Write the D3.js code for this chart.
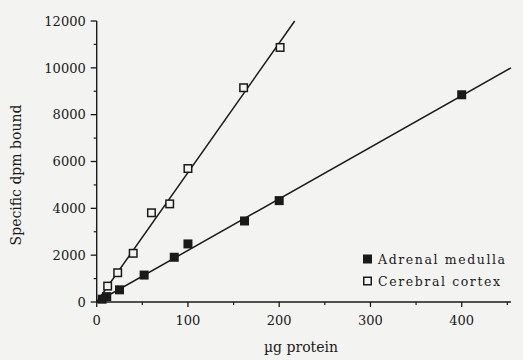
<!DOCTYPE html>
<html>
<head>
<meta charset="utf-8">
<script src="https://cdn.jsdelivr.net/npm/d3@7"></script>
<style>
  html, body { margin: 0; padding: 0; background: #f3f3f1; }
  svg { display: block; }
  text { font-family: "DejaVu Serif", "Liberation Serif", serif; fill: #1a1a1a; }
</style>
</head>
<body>
<svg id="chart" width="523" height="360"></svg>
<script>
// ---- Data (µg protein vs specific dpm bound) ----
const adrenalX = [6, 11, 25, 52, 85, 100, 162, 200, 400];
const adrenalY = [120, 230, 520, 1150, 1910, 2480, 3460, 4330, 8850];
const cortexX = [12, 23, 40, 60, 80, 100, 161, 201];
const cortexY = [680, 1250, 2080, 3810, 4190, 5700, 9150, 10870];
// fitted regression lines (data units: [x, y])
const adrenalFit = [[0, 0], [454, 10000]];
const cortexFit = [[0, 0], [217, 12000]];
const xMajorTicks = [0, 100, 200, 300, 400];
const xMinorTicks = [50, 150, 250, 350, 450];
const yMajorTicks = [0, 2000, 4000, 6000, 8000, 10000, 12000];
const yMinorTicks = [1000, 3000, 5000, 7000, 9000, 11000];
const legendLabels = ["Adrenal medulla", "Cerebral cortex"];
const xTitle = "µg protein";
const yTitle = "Specific dpm bound";

const svg = d3.select("#chart");
const ink = "#1a1a1a";

const x = d3.scaleLinear().domain([0, 400]).range([96.7, 461.7]);
const y = d3.scaleLinear().domain([0, 12000]).range([302, 21]);
const xEnd = 454;

// X axis
const gx = svg.append("g").attr("transform", `translate(0,${y(0)})`);
gx.append("line").attr("x1", x(0)).attr("x2", x(xEnd)).attr("stroke", ink).attr("stroke-width", 1.4);
gx.selectAll("line.maj").data(xMajorTicks).join("line").attr("class", "maj")
  .attr("x1", d => x(d)).attr("x2", d => x(d)).attr("y1", 0).attr("y2", 5)
  .attr("stroke", ink).attr("stroke-width", 1.3);
gx.selectAll("line.min").data(xMinorTicks).join("line").attr("class", "min")
  .attr("x1", d => x(d)).attr("x2", d => x(d)).attr("y1", 0).attr("y2", 3)
  .attr("stroke", ink).attr("stroke-width", 1.2);
gx.selectAll("text").data(xMajorTicks).join("text")
  .attr("x", d => x(d)).attr("y", 23).attr("text-anchor", "middle")
  .attr("font-size", 13).text(d => d);

// Y axis
const gy = svg.append("g").attr("transform", `translate(${x(0)},0)`);
gy.append("line").attr("y1", y(0)).attr("y2", y(12000)).attr("stroke", ink).attr("stroke-width", 1.4);
gy.selectAll("line.maj").data(yMajorTicks).join("line").attr("class", "maj")
  .attr("y1", d => y(d)).attr("y2", d => y(d)).attr("x1", 0).attr("x2", -6)
  .attr("stroke", ink).attr("stroke-width", 1.3);
gy.selectAll("line.min").data(yMinorTicks).join("line").attr("class", "min")
  .attr("y1", d => y(d)).attr("y2", d => y(d)).attr("x1", 0).attr("x2", -3)
  .attr("stroke", ink).attr("stroke-width", 1.2);
gy.selectAll("text").data(yMajorTicks).join("text")
  .attr("x", -11).attr("y", d => y(d)).attr("dy", "0.36em").attr("text-anchor", "end")
  .attr("font-size", 13).text(d => d);

// Titles
svg.append("text").attr("x", 301).attr("y", 352).attr("text-anchor", "middle")
  .attr("font-size", 14).text(xTitle);
svg.append("text").attr("transform", "translate(21,175) rotate(-90)").attr("text-anchor", "middle")
  .attr("font-size", 14).text(yTitle);

// Fit lines
const line = d3.line().x(d => x(d[0])).y(d => y(d[1]));
svg.append("path").datum(adrenalFit).attr("d", line).attr("fill", "none").attr("stroke", ink).attr("stroke-width", 1.5);
svg.append("path").datum(cortexFit).attr("d", line).attr("fill", "none").attr("stroke", ink).attr("stroke-width", 1.5);

const s = 9;
// Adrenal medulla (filled squares)
svg.append("g").selectAll("rect").data(adrenalX.map((d, i) => [d, adrenalY[i]])).join("rect")
  .attr("x", d => x(d[0]) - s / 2).attr("y", d => y(d[1]) - s / 2)
  .attr("width", s).attr("height", s).attr("fill", ink);
// Cerebral cortex (open squares)
svg.append("g").selectAll("rect").data(cortexX.map((d, i) => [d, cortexY[i]])).join("rect")
  .attr("x", d => x(d[0]) - (s - 1.5) / 2).attr("y", d => y(d[1]) - (s - 1.5) / 2)
  .attr("width", s - 1.5).attr("height", s - 1.5).attr("fill", "#f3f3f1")
  .attr("stroke", ink).attr("stroke-width", 1.5);

// Legend
const lg = svg.append("g");
legendLabels.forEach((lab, i) => {
  const cy = 259 + i * 22;
  if (i === 0) {
    lg.append("rect").attr("x", 363).attr("y", cy - 4.5).attr("width", 9).attr("height", 9).attr("fill", ink);
  } else {
    lg.append("rect").attr("x", 363.75).attr("y", cy - 3.75).attr("width", 7.5).attr("height", 7.5)
      .attr("fill", "#f3f3f1").attr("stroke", ink).attr("stroke-width", 1.5);
  }
  lg.append("text").attr("x", 378).attr("y", cy).attr("dy", "0.36em")
    .attr("font-size", 12.5).attr("letter-spacing", 1.6).text(lab);
});
</script>
</body>
</html>
